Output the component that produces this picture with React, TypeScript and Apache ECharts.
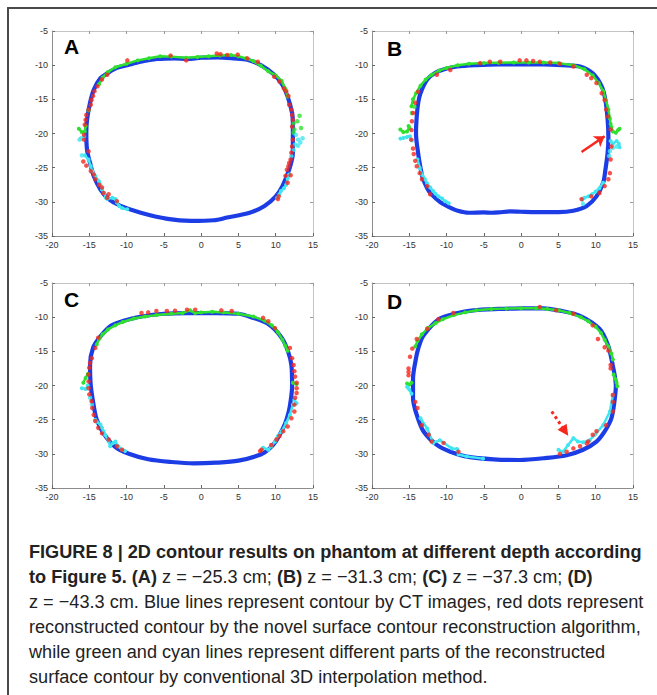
import React, { useEffect, useRef } from "react";
import * as echarts from "echarts";

// ---------- axis ticks ----------
const xMin = -20, xMax = 15, xStep = 5;
const yMin = -35, yMax = -5, yStep = 5;
const panelLetters = ["A", "B", "C", "D"];

// ---------- Panel A ----------
const blueA = [[0,-8.9],[2.2,-8.85],[4.4,-9.0],[6.2,-9.2],[8.0,-10.0],[9.8,-11.4],[10.9,-12.9],[11.6,-14.6],[12.2,-17.0],[12.3,-18.5],[12.3,-20.5],[12.3,-22.8],[11.8,-25.3],[10.9,-27.7],[10.0,-29.2],[8.5,-30.6],[6.5,-31.6],[3.5,-32.3],[1.7,-32.7],[-1.4,-32.8],[-4.5,-32.5],[-8.1,-31.6],[-10.8,-30.6],[-12.4,-29.6],[-13.5,-28.2],[-14.4,-26.2],[-14.9,-24.3],[-15.3,-22.4],[-15.4,-19.9],[-15.3,-18.0],[-14.9,-15.5],[-14.4,-13.6],[-13.5,-11.9],[-12.6,-11.2],[-11.3,-10.4],[-9.9,-10.0],[-8.1,-9.5],[-5.9,-9.1],[-3.6,-9.0],[-1.8,-9.1],[0,-8.9]];
const redA = [[-14.3,-13.8],[-14.5,-14.5],[-14.7,-15.1],[-14.8,-15.8],[-15.1,-16.5],[-15.4,-17.3],[-15.5,-18.0],[-15.6,-18.7],[-15.7,-20.2],[-15.7,-20.9],[-15.1,-22.6],[-15.8,-24.1],[-15.4,-24.7],[-14.8,-25.5],[-14.4,-26.0],[-14.2,-26.7],[-13.7,-27.5],[-13.3,-27.9],[-13.1,-28.7],[-12.4,-28.9],[-12.6,-29.4],[-11.3,-29.9],[-13.9,-13.1],[-13.3,-12.1],[-12.6,-11.4],[-9.9,-9.3],[-4.1,-8.6],[-2.0,-9.3],[2.1,-8.3],[2.6,-8.4],[3.5,-8.5],[4.9,-8.45],[6.2,-9.0],[7.6,-9.5],[9.8,-11.7],[10.5,-12.4],[11.1,-13.4],[11.4,-13.8],[11.7,-14.5],[11.8,-15.8],[12.1,-16.5],[12.2,-17.3],[12.3,-18.0],[12.2,-19.0],[12.3,-20.9],[12.2,-21.9],[12.1,-22.8],[12.0,-23.8],[11.8,-24.3],[11.7,-24.8],[11.5,-25.3],[11.3,-26.2],[12.0,-26.1],[11.6,-27.2],[10.4,-29.2],[10.3,-29.6]];
const greenA = [
  [[-13.7,-12.8],[-13.2,-11.8],[-12.5,-11.0],[-11.5,-10.3],[-10.0,-9.8],[-8.5,-9.3],[-7.0,-9.0],[-5.5,-8.7],[-4.0,-8.75],[-2.0,-8.9],[-0.5,-8.8],[1.0,-8.7],[2.5,-8.6],[4.0,-8.5],[5.0,-8.7],[6.0,-9.0],[7.0,-9.4],[8.0,-10.1],[9.0,-10.9],[10.0,-11.5],[10.8,-12.3],[11.3,-13.5],[11.6,-14.6]],
  [[-16.4,-19.3],[-16.0,-19.8],[-15.6,-19.7],[-15.5,-18.9]]
];
const greenDotsA = [[13.2,-17.4],[12.9,-18.2],[13.4,-19.2],[12.4,-18.5],[12.5,-19.4],[12.4,-19.9],[-15.1,-16.6]];
const cyanA = [
  [[-15.6,-23.2],[-15.1,-23.8],[-14.8,-24.8],[-14.6,-25.5],[-14.2,-26.2],[-13.7,-27.0],[-13.5,-27.5],[-13.3,-28.2],[-13.0,-28.7],[-12.8,-29.4],[-12.6,-29.6],[-11.9,-29.4],[-11.5,-29.6],[-11.3,-30.1],[-11.0,-30.6],[-10.6,-30.9],[-9.9,-31.1]],
  [[11.8,-26.0],[11.6,-26.6],[11.4,-27.5],[11.1,-28.0],[10.7,-28.4],[10.5,-28.9],[10.2,-29.4]]
];
const cyanDotsA = [[-16.3,-20.9],[-16.1,-20.7],[-15.7,-20.4],[-16.0,-23.2],[12.7,-20.2],[13.0,-20.9],[13.6,-20.7],[13.3,-21.3],[13.0,-21.8],[12.6,-21.6],[12.4,-22.4],[12.1,-23.3]];

// ---------- Panel B ----------
const blueB = [[0,-9.9],[3,-9.9],[5.5,-10.0],[7.9,-10.2],[9.6,-11.2],[10.8,-13.1],[11.3,-15.1],[11.6,-18.0],[11.7,-20.5],[11.6,-22.8],[11.3,-25.3],[11.0,-27.2],[10.1,-29.2],[8.8,-30.6],[7.0,-31.3],[5.0,-31.5],[2.0,-31.5],[0,-31.45],[-1.5,-31.4],[-3.0,-31.55],[-4.0,-31.6],[-5.0,-31.55],[-7.0,-31.6],[-8.5,-31.3],[-9.6,-30.8],[-10.9,-30.0],[-12.1,-28.8],[-12.6,-28.0],[-13.2,-26.5],[-13.5,-25.0],[-13.8,-23.0],[-14.1,-20.0],[-14.0,-17.5],[-13.8,-15.5],[-13.5,-14.1],[-12.6,-12.1],[-11.5,-11.1],[-10.3,-10.6],[-8.6,-10.2],[-6.0,-10.0],[-3.0,-9.9],[0,-9.9]];
const redB = [[-13.8,-13.9],[-14.2,-15.5],[-14.5,-17.0],[-14.65,-18.2],[-14.7,-19.5],[-14.75,-20.9],[-14.5,-22.2],[-14.4,-23.0],[-14.2,-24.0],[-14.0,-24.8],[-13.6,-25.8],[-13.3,-26.7],[-12.6,-27.7],[-12.2,-28.9],[-11.3,-11.4],[-9.5,-10.7],[-5.5,-9.7],[-4.2,-9.5],[-2.8,-9.5],[-0.2,-9.3],[0.7,-9.3],[1.6,-9.4],[2.5,-9.5],[3.9,-9.6],[5.2,-9.8],[7.0,-10.2],[8.8,-11.4],[9.4,-11.9],[10.1,-12.6],[10.8,-14.1],[11.2,-15.1],[11.4,-16.5],[11.65,-17.5],[12.0,-19.4],[12.1,-21.9],[12.0,-23.8],[11.9,-25.8],[11.7,-26.7],[11.2,-27.7],[10.5,-28.7],[9.4,-29.2],[8.1,-29.6]];
const greenB = [
  [[-14.7,-16.0],[-14.5,-15.0],[-14.1,-14.1],[-13.5,-13.0],[-12.8,-12.1],[-12.0,-11.4],[-11.0,-10.8],[-10.0,-10.4],[-8.5,-10.0],[-7.0,-9.8],[-5.0,-9.7],[-3.0,-9.65],[-1.0,-9.6],[1.0,-9.6],[3.0,-9.6],[5.0,-9.7],[7.0,-10.0],[8.5,-10.6],[9.6,-11.5],[10.4,-12.6],[11.0,-13.8],[11.4,-15.2],[11.7,-16.5],[11.9,-17.8],[12.0,-18.6]],
  [[-16.2,-19.4],[-15.8,-19.8],[-15.3,-19.7],[-15.0,-19.2],[-15.1,-18.9]],
  [[12.1,-19.05],[12.3,-19.7],[12.7,-19.9],[13.0,-19.5],[13.2,-19.3]]
];
const greenDotsB = [[-14.65,-17.0],[-14.3,-16.1]];
const cyanB = [
  [[-16.2,-20.75],[-15.8,-20.65],[-15.3,-20.5],[-14.9,-20.4]],
  [[-13.9,-23.8],[-13.6,-25.0],[-13.3,-26.0],[-12.9,-26.7],[-12.6,-27.3],[-12.2,-27.9],[-11.8,-28.4],[-11.5,-28.8],[-11.1,-29.2],[-10.6,-29.5],[-10.2,-29.9],[-9.7,-30.2]],
  [[12.0,-21.1],[12.3,-21.5],[12.8,-21.1],[13.1,-21.5],[13.2,-22.0]],
  [[11.0,-27.2],[10.5,-28.0],[10.0,-28.5],[9.5,-28.9],[9.0,-29.2],[8.5,-29.4],[8.2,-29.7]]
];
const cyanDotsB = [[-14.65,-21.0],[12.8,-21.9],[12.3,-22.1],[11.9,-22.6],[11.8,-23.3],[8.3,-30.3]];
const arrowB = [[8.1,-22.7],[11.2,-20.4]];

// ---------- Panel C ----------
const blueC = [[0,-9.4],[2,-9.4],[5,-9.5],[6.7,-10.0],[9.0,-11.0],[10.8,-13.0],[11.65,-15.0],[12.1,-17.0],[12.2,-20.0],[11.9,-23.0],[11.5,-24.8],[11.0,-26.2],[10.0,-28.2],[9.0,-29.4],[8.0,-30.1],[5.0,-31.0],[2.0,-31.3],[-1.0,-31.4],[-4.0,-31.2],[-7.1,-30.8],[-9.7,-30.0],[-11.5,-29.0],[-13.1,-27.0],[-14.0,-25.0],[-14.4,-23.0],[-14.8,-20.0],[-14.9,-17.0],[-14.5,-14.5],[-13.5,-12.8],[-12.0,-11.2],[-10.0,-10.4],[-8.0,-9.9],[-5.0,-9.5],[-2.0,-9.4],[0,-9.4]];
const redC = [[-8.0,-9.4],[-7.1,-9.3],[-6.0,-9.1],[-4.6,-9.1],[-3.5,-9.05],[-1.9,-8.9],[-0.8,-8.9],[2.7,-9.0],[4.1,-9.1],[8.3,-10.1],[9.0,-10.6],[9.9,-11.6],[-13.8,-13.0],[-14.2,-14.5],[-14.65,-16.0],[-14.9,-16.7],[-15.0,-17.4],[-15.1,-18.4],[-15.1,-19.4],[-15.1,-20.4],[-15.0,-21.3],[-14.7,-22.3],[-14.6,-23.3],[-14.4,-24.3],[-14.2,-25.2],[-13.8,-26.2],[-13.3,-27.0],[-12.4,-27.9],[-11.3,-28.9],[-10.6,-29.4],[11.9,-14.5],[12.2,-16.0],[12.4,-17.0],[12.5,-17.9],[12.6,-18.7],[12.8,-19.6],[12.8,-20.4],[12.8,-21.1],[12.6,-21.8],[12.5,-22.8],[12.5,-23.8],[12.1,-24.8],[11.6,-26.0],[11.0,-26.7],[10.5,-27.4],[10.1,-27.9],[9.4,-28.7],[8.1,-29.4],[7.9,-29.6]];
const greenC = [
  [[-14.0,-14.0],[-13.7,-13.2],[-13.2,-12.5],[-12.5,-11.8],[-11.5,-11.2],[-10.5,-10.7],[-9.0,-10.2],[-7.5,-9.9],[-6.0,-9.7],[-4.0,-9.5],[-2.5,-9.4],[-1.5,-9.0],[-0.8,-9.4],[0,-9.3],[1.5,-9.2],[3.0,-9.3],[5.0,-9.5],[7.0,-9.9],[8.5,-10.5],[9.5,-11.2],[10.3,-12.2],[10.9,-13.3],[11.3,-14.2],[11.6,-14.9]],
  [[-15.8,-19.6],[-15.5,-18.9],[-15.2,-18.3]],
  [[12.3,-19.6],[12.8,-19.8]]
];
const greenDotsC: number[][] = [];
const cyanC = [
  [[-16.0,-20.4],[-15.5,-20.5],[-15.2,-20.0]],
  [[-14.2,-25.0],[-14.0,-25.3],[-13.5,-25.7],[-13.3,-26.2],[-13.1,-26.7],[-12.9,-27.2],[-12.4,-28.2],[-12.2,-28.9],[-11.8,-28.4],[-11.5,-28.2],[-11.1,-28.9],[-10.6,-29.4],[-10.2,-29.6]],
  [[12.5,-22.1],[12.8,-22.6],[12.3,-22.8],[11.9,-24.3],[11.4,-25.5],[10.8,-26.7],[10.3,-27.4],[9.9,-28.2],[9.4,-28.9],[9.0,-29.4],[8.3,-29.1],[8.1,-29.4]]
];
const cyanDotsC = [[-14.9,-21.8],[-14.65,-22.8]];

// ---------- Panel D ----------
const blueD = [[0,-8.7],[3.0,-8.7],[5.5,-9.1],[7.9,-9.8],[10.5,-11.7],[11.65,-14.1],[12.2,-16.6],[12.7,-20.0],[12.5,-22.4],[12.1,-24.8],[11.2,-26.7],[10.1,-28.2],[8.3,-29.4],[6.1,-30.2],[3.4,-30.6],[-0.2,-30.9],[-3.7,-30.8],[-7.3,-30.4],[-9.5,-29.7],[-11.3,-28.7],[-13.1,-26.7],[-14.0,-24.3],[-14.5,-21.9],[-14.5,-19.0],[-14.2,-16.6],[-13.8,-14.6],[-13.1,-12.7],[-10.9,-10.2],[-8.5,-9.4],[-6.4,-9.0],[-3.0,-8.8],[0,-8.7]];
const redD = [[-15.1,-17.5],[-15.1,-18.0],[-15.1,-18.5],[-14.9,-15.8],[-14.6,-14.6],[-14.0,-13.2],[-12.6,-11.7],[-11.1,-10.3],[-9.1,-9.4],[-14.2,-22.4],[-13.9,-23.3],[-13.3,-25.8],[-12.4,-27.2],[-12.0,-28.2],[-10.4,-28.4],[-8.4,-29.7],[2.5,-8.5],[4.7,-9.0],[7.0,-9.5],[9.6,-11.2],[10.3,-13.2],[11.2,-14.4],[11.7,-14.9],[12.0,-17.0],[12.0,-17.5],[12.3,-21.4],[12.3,-22.4],[12.3,-23.8],[11.4,-25.8],[10.1,-26.7],[9.6,-27.2],[9.0,-28.2],[8.8,-28.5],[7.9,-28.9],[7.0,-29.2],[6.1,-29.7],[5.2,-30.0]];
const greenD = [
  [[-14.2,-14.3],[-13.9,-13.5],[-13.3,-12.5],[-12.5,-11.6],[-11.5,-10.9],[-10.5,-10.3],[-9.0,-9.7],[-7.5,-9.3],[-6.0,-9.0],[-4.0,-8.8],[-2.0,-8.75],[0,-8.7],[2.0,-8.7],[3.5,-8.8],[5.0,-9.0],[6.5,-9.4],[8.0,-10.0],[9.0,-10.6],[10.0,-11.4],[10.7,-12.3],[11.2,-13.3],[11.7,-14.3],[12.1,-15.3],[12.3,-16.2]],
  [[12.4,-18.4],[12.6,-19.0],[12.8,-19.6],[12.9,-20.1]],
  [[-15.3,-19.7],[-15.0,-19.9],[-14.7,-19.6]]
];
const greenDotsD: number[][] = [];
const cyanD = [
  [[-15.3,-20.2],[-15.0,-20.6],[-14.7,-21.2]],
  [[-13.5,-24.8],[-12.6,-26.3],[-11.8,-28.4],[-10.9,-28.0],[-9.3,-29.2],[-8.6,-29.3],[-8.4,-30.1],[-7.3,-30.4],[-5.1,-30.7]],
  [[5.0,-29.4],[5.6,-29.7],[6.3,-28.7],[7.0,-27.7],[7.6,-28.2],[8.3,-28.3],[9.2,-28.0],[9.9,-27.2],[11.0,-25.8],[11.9,-23.8],[12.3,-21.4]]
];
const cyanDotsD: number[][] = [];
const arrowD = [[4.1,-23.8],[5.9,-26.7]];

// ---------- caption ----------
const captionLines = [
  "{b|FIGURE 8 | 2D contour results on phantom at different depth according}",
  "{b|to Figure 5. (A)}{n| z = \u221225.3 cm; }{b|(B)}{n| z = \u221231.3 cm; }{b|(C)}{n| z = \u221237.3 cm; }{b|(D)}",
  "{n|z = \u221243.3 cm. Blue lines represent contour by CT images, red dots represent}",
  "{n|reconstructed contour by the novel surface contour reconstruction algorithm,}",
  "{n|while green and cyan lines represent different parts of the reconstructed}",
  "{n|surface contour by conventional 3D interpolation method.}",
];

const BLUE = "#1c3ce6";
const RED = "#f5281e";
const GREEN = "#2fe02f";
const CYAN = "#3fe6f0";

const gridPos = [[52, 31], [372, 31], [52, 283], [372, 283]];
const letterPos = [[64, 36], [387, 38], [64, 289], [387, 291]];
const GW = 261, GH = 205;

export default function App() {
  const ref = useRef<HTMLDivElement>(null);
  useEffect(() => {
    if (!ref.current) return;
    const chart = echarts.init(ref.current, null, { renderer: "svg" });
    const panels = [
      { blue: blueA, red: redA, green: greenA, greenDots: greenDotsA, cyan: cyanA, cyanDots: cyanDotsA, arrow: null as any, dotted: false },
      { blue: blueB, red: redB, green: greenB, greenDots: greenDotsB, cyan: cyanB, cyanDots: cyanDotsB, arrow: arrowB, dotted: false },
      { blue: blueC, red: redC, green: greenC, greenDots: greenDotsC, cyan: cyanC, cyanDots: cyanDotsC, arrow: null as any, dotted: false },
      { blue: blueD, red: redD, green: greenD, greenDots: greenDotsD, cyan: cyanD, cyanDots: cyanDotsD, arrow: arrowD, dotted: true },
    ];
    const font = "Liberation Sans";
    const grid = gridPos.map(([l, t]) => ({ left: l, top: t, width: GW, height: GH, containLabel: false }));
    const xAxis: any[] = [];
    const yAxis: any[] = [];
    const tickMain = { inside: true, length: 3, lineStyle: { color: "#666" } };
    gridPos.forEach((_, i) => {
      xAxis.push({ type: "value", gridIndex: i, position: "bottom", min: xMin, max: xMax, interval: xStep,
        axisLine: { show: true, onZero: false, lineStyle: { color: "#8c8c8c", width: 1 } },
        axisTick: tickMain, splitLine: { show: false },
        axisLabel: { fontSize: 9, color: "#333", margin: 4, fontFamily: font } });
      yAxis.push({ type: "value", gridIndex: i, position: "left", min: yMin, max: yMax, interval: yStep,
        axisLine: { show: true, onZero: false, lineStyle: { color: "#8c8c8c", width: 1 } },
        axisTick: tickMain, splitLine: { show: false },
        axisLabel: { fontSize: 9, color: "#333", margin: 4, fontFamily: font } });
    });
    gridPos.forEach((_, i) => {
      xAxis.push({ type: "value", gridIndex: i, position: "top", min: xMin, max: xMax, interval: xStep,
        axisLine: { show: true, onZero: false, lineStyle: { color: "#c4c4c4", width: 1 } },
        axisTick: { inside: true, length: 3, lineStyle: { color: "#999" } }, splitLine: { show: false },
        axisLabel: { show: false } });
      yAxis.push({ type: "value", gridIndex: i, position: "right", min: yMin, max: yMax, interval: yStep,
        axisLine: { show: true, onZero: false, lineStyle: { color: "#c4c4c4", width: 1 } },
        axisTick: { inside: true, length: 3, lineStyle: { color: "#999" } }, splitLine: { show: false },
        axisLabel: { show: false } });
    });

    const series: any[] = [];
    panels.forEach((p, i) => {
      series.push({ type: "line", xAxisIndex: i, yAxisIndex: i, data: p.blue, showSymbol: false, smooth: 0.3,
        lineStyle: { color: BLUE, width: 4.2 }, itemStyle: { color: BLUE }, z: 2, silent: true });
      p.green.forEach((seg) => series.push({ type: "line", xAxisIndex: i, yAxisIndex: i, data: seg,
        symbol: "circle", symbolSize: 4, showSymbol: true, lineStyle: { color: GREEN, width: 2.5 }, itemStyle: { color: GREEN }, z: 3, silent: true }));
      p.cyan.forEach((seg) => series.push({ type: "line", xAxisIndex: i, yAxisIndex: i, data: seg,
        symbol: "circle", symbolSize: 4, showSymbol: true, lineStyle: { color: CYAN, width: 2.5 }, itemStyle: { color: CYAN }, z: 3, silent: true }));
      series.push({ type: "scatter", xAxisIndex: i, yAxisIndex: i, data: p.greenDots, symbolSize: 4.5, itemStyle: { color: GREEN }, z: 3, silent: true });
      series.push({ type: "scatter", xAxisIndex: i, yAxisIndex: i, data: p.cyanDots, symbolSize: 4.5, itemStyle: { color: CYAN }, z: 3, silent: true });
      const red: any = { type: "scatter", xAxisIndex: i, yAxisIndex: i, data: p.red, symbolSize: 4.5, itemStyle: { color: RED }, z: 4, silent: true };
      if (p.arrow) {
        red.markLine = {
          silent: true, animation: false,
          symbol: ["none", p.dotted ? "triangle" : "arrow"],
          symbolSize: p.dotted ? 11 : 10,
          label: { show: false },
          lineStyle: { color: RED, width: p.dotted ? 3 : 2.5, type: p.dotted ? "dotted" : "solid" },
          emphasis: { disabled: true },
          data: [[{ coord: p.arrow[0] }, { coord: p.arrow[1] }]],
        };
      }
      series.push(red);
    });

    const graphic: any[] = [
      { type: "rect", shape: { x: 8, y: 8, width: 720, height: 720 }, style: { fill: "none", stroke: "#4a4a4a", lineWidth: 2 }, silent: true, z: 0 },
    ];
    panelLetters.forEach((t, i) => {
      graphic.push({ type: "text", x: letterPos[i][0], y: letterPos[i][1],
        style: { text: t, font: `bold 21px "${font}"`, fill: "#000", verticalAlign: "top" }, z: 10 });
    });
    graphic.push({
      type: "text", x: 29, y: 539, scaleX: 0.955, scaleY: 1,
      style: {
        text: captionLines.join("\n"),
        fill: "#222",
        verticalAlign: "top",
        rich: {
          b: { fontWeight: "bold", fontSize: 19, lineHeight: 25, fontFamily: font, fill: "#222" },
          n: { fontWeight: "normal", fontSize: 19, lineHeight: 25, fontFamily: font, fill: "#222" },
        },
      },
      z: 10,
    });

    chart.setOption({ animation: false, backgroundColor: "#fff", grid, xAxis, yAxis, series, graphic });
    return () => chart.dispose();
  }, []);
  return <div ref={ref} style={{ position: "fixed", left: 0, top: 0, width: 657, height: 695 }} />;
}
